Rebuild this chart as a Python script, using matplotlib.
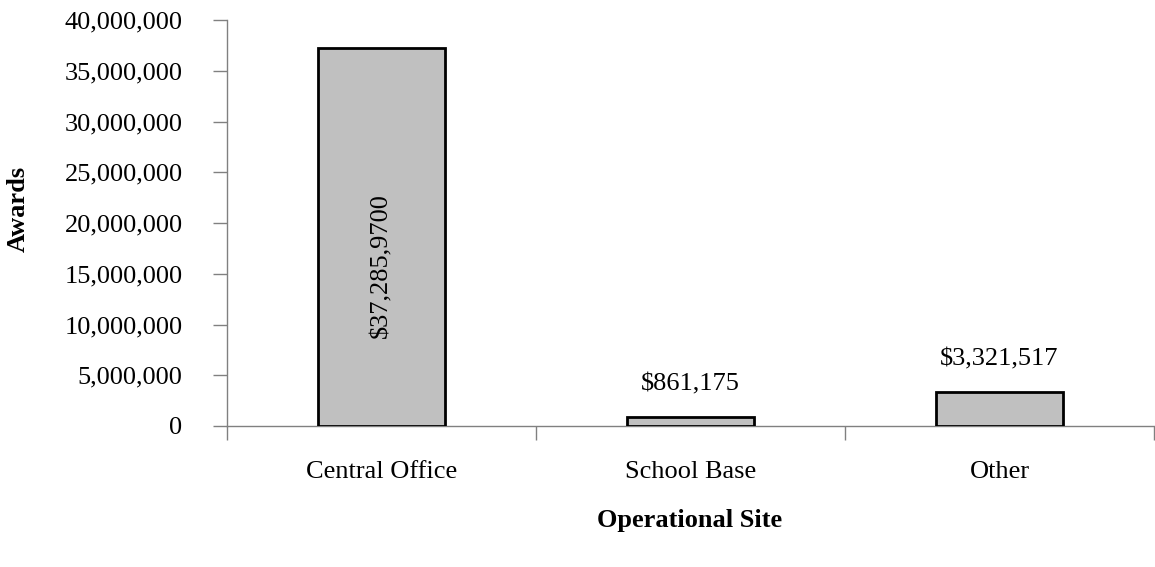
import matplotlib
matplotlib.use("Agg")
import matplotlib.pyplot as plt
from matplotlib.ticker import FuncFormatter

categories = ["Central Office", "School Base", "Other"]
values = [37285970, 861175, 3321517]
value_labels = ["$37,285,9700", "$861,175", "$3,321,517"]
yticks = [0, 5000000, 10000000, 15000000, 20000000, 25000000, 30000000, 35000000, 40000000]

plt.rcParams['font.family'] = ['Liberation Serif', 'DejaVu Serif']

fig = plt.figure(figsize=(11.55, 5.67), dpi=100)
ax = fig.add_axes([227/1155, 1 - 426/567, (1154-227)/1155, (426-20)/567])

x = list(range(len(categories)))
ax.bar(x, values, width=0.41, color='#C0C0C0', edgecolor='black', linewidth=2.0, zorder=3)

ax.set_xlim(-0.5, 2.5)
ax.set_ylim(0, 40000000)
ax.set_yticks(yticks)
ax.yaxis.set_major_formatter(FuncFormatter(lambda v, p: f"{int(v):,}"))
ax.set_xticks(x)
ax.set_xticklabels(categories)
ax.set_xticks([-0.5, 0.5, 1.5, 2.5], minor=True)
ax.tick_params(axis='x', which='major', length=0, pad=25, labelsize=19)
ax.tick_params(axis='x', which='minor', length=10, width=1, color='#808080', direction='out')
ax.tick_params(axis='y', which='major', length=10, width=1, color='#808080', direction='out', pad=22, labelsize=19)

for s in ['top', 'right']:
    ax.spines[s].set_visible(False)
for s in ['left', 'bottom']:
    ax.spines[s].set_color('#808080')
    ax.spines[s].set_linewidth(1)

# labels
ax.text(0, values[0] * 0.425, value_labels[0], rotation=90, ha='center', va='center', fontsize=19)
for i in (1, 2):
    ax.annotate(value_labels[i], (i, values[i]), xytext=(0, 16), textcoords='offset points',
                ha='center', va='bottom', fontsize=19)

fig.text(18/1155, 1 - 209/567, 'Awards', rotation=90, ha='center', va='center', fontsize=19, fontweight='bold')
fig.text(690/1155, 1 - 521/567, 'Operational Site', ha='center', va='center', fontsize=19, fontweight='bold')

fig.savefig('out.png', dpi=100)
